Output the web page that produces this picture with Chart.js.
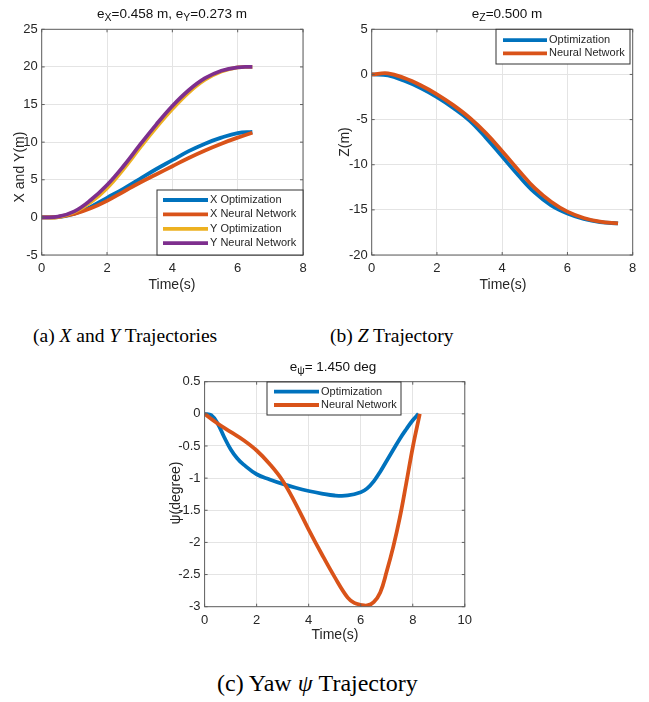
<!DOCTYPE html>
<html>
<head>
<meta charset="utf-8">
<script src="https://cdn.jsdelivr.net/npm/chart.js@4.4.1/dist/chart.umd.min.js"></script>
<style>
  html, body { margin: 0; padding: 0; background: #fff; }
  body { position: relative; width: 649px; height: 702px; overflow: hidden; }
  .panel { position: absolute; }
  .cap { position: absolute; font-family: "Liberation Serif", "Times New Roman", serif;
         font-size: 19.5px; line-height: 19.5px; color: #000; white-space: nowrap; }
</style>
</head>
<body>
<div class="panel" style="left:0;top:0"><canvas id="xyChart" width="330" height="300" style="width:330px;height:300px"></canvas></div>
<div class="panel" style="left:330px;top:0"><canvas id="zChart" width="319" height="300" style="width:319px;height:300px"></canvas></div>
<div class="panel" style="left:160px;top:350px"><canvas id="yawChart" width="330" height="300" style="width:330px;height:300px"></canvas></div>

<div class="cap" style="left:33px;top:326px">(a) <i>X</i> and <i>Y</i> Trajectories</div>
<div class="cap" style="left:330px;top:326px">(b) <i>Z</i> Trajectory</div>
<div class="cap" style="left:217px;top:671px;font-size:24px;line-height:24px">(c) Yaw <i>ψ</i> Trajectory</div>

<script>
// X / Y position (m)
const tXY = [0, 0.5, 1, 1.5, 2, 2.5, 3, 3.5, 4, 4.5, 5, 5.5, 6, 6.45];
const xOpt = [0, 0.05, 0.5, 1.4, 2.6, 3.8, 5.1, 6.4, 7.6, 8.8, 9.8, 10.6, 11.2, 11.35];
const xNN = [0, 0.05, 0.45, 1.2, 2.2, 3.4, 4.6, 5.7, 6.8, 7.9, 8.9, 9.8, 10.6, 11.25];
const yOpt = [0, 0.05, 0.7, 2.0, 3.9, 6.4, 9.2, 11.9, 14.4, 16.6, 18.3, 19.4, 19.95, 20];
const yNN = [0, 0.1, 0.8, 2.3, 4.3, 6.8, 9.6, 12.3, 14.8, 16.9, 18.5, 19.5, 19.95, 20];

// Z position (m)
const tZ = [0, 0.5, 1, 1.5, 2, 2.5, 3, 3.5, 4, 4.5, 5, 5.5, 6, 6.5, 7, 7.55];
const zOpt = [0, -0.1, -0.7, -1.5, -2.5, -3.7, -5.1, -7.0, -9.1, -11.2, -13.1, -14.5, -15.4, -16.0, -16.35, -16.5];
const zNN = [0, 0.12, -0.4, -1.2, -2.2, -3.4, -4.8, -6.5, -8.5, -10.6, -12.6, -14.1, -15.2, -15.9, -16.3, -16.5];

// yaw (degree)
const tPsiOpt = [0, 0.25, 0.5, 0.75, 1, 1.25, 1.5, 2, 2.5, 3, 3.5, 4, 4.5, 5, 5.5, 6, 6.25, 6.5, 6.75, 7, 7.25, 7.5, 7.75, 8, 8.22];
const psiOpt = [0, -0.02, -0.15, -0.36, -0.55, -0.69, -0.79, -0.94, -1.02, -1.09, -1.15, -1.2, -1.24, -1.27, -1.27, -1.22, -1.16, -1.05, -0.9, -0.73, -0.56, -0.39, -0.24, -0.1, 0];
const tPsiNN = [0, 0.5, 1, 1.5, 2, 2.5, 3, 3.5, 4, 4.5, 5, 5.5, 5.75, 6, 6.25, 6.5, 6.75, 7, 7.25, 7.5, 7.75, 8, 8.27];
const psiNN = [0, -0.15, -0.28, -0.41, -0.57, -0.78, -1.04, -1.4, -1.8, -2.18, -2.54, -2.86, -2.94, -2.97, -2.98, -2.93, -2.78, -2.45, -2.07, -1.62, -1.08, -0.52, 0];

const BLUE = '#0072BD', ORANGE = '#D95319', YELLOW = '#EDB120', PURPLE = '#7E2F8E';
const FONT = '"Liberation Sans", Arial, Helvetica, sans-serif';
const TEXT = '#262626';
const LINE_W = 3.8;

Chart.defaults.font.family = FONT;
Chart.defaults.color = TEXT;

// box, inward ticks, title, axis labels and legend in the MATLAB look
const matlabAxes = {
  id: 'matlabAxes',
  afterDraw(chart, args, o) {
    const { ctx, chartArea: a, scales: { x, y } } = chart;
    ctx.save();

    ctx.strokeStyle = '#5f5f5f';
    ctx.lineWidth = 1;
    ctx.strokeRect(a.left, a.top, a.right - a.left, a.bottom - a.top);
    ctx.beginPath();
    x.ticks.forEach(t => {
      const px = x.getPixelForValue(t.value);
      ctx.moveTo(px, a.bottom); ctx.lineTo(px, a.bottom - 3);
      ctx.moveTo(px, a.top); ctx.lineTo(px, a.top + 3);
    });
    y.ticks.forEach(t => {
      const py = y.getPixelForValue(t.value);
      ctx.moveTo(a.left, py); ctx.lineTo(a.left + 3, py);
      ctx.moveTo(a.right, py); ctx.lineTo(a.right - 3, py);
    });
    ctx.stroke();

    // title, with subscripts
    ctx.fillStyle = '#111';
    ctx.textBaseline = 'middle';
    ctx.textAlign = 'left';
    const big = '13.5px ' + FONT, small = '10.5px ' + FONT;
    let w = 0;
    o.title.forEach(([s, sub]) => { ctx.font = sub ? small : big; w += ctx.measureText(s).width; });
    let cx = o.titleAt[0] - w / 2;
    o.title.forEach(([s, sub]) => {
      ctx.font = sub ? small : big;
      ctx.fillText(s, cx, o.titleAt[1] + (sub ? 4 : 0));
      cx += ctx.measureText(s).width;
    });

    // axis labels
    ctx.fillStyle = TEXT;
    ctx.textAlign = 'center';
    ctx.font = '14px ' + FONT;
    ctx.fillText('Time(s)', o.xLabelAt[0], o.xLabelAt[1]);
    ctx.save();
    ctx.translate(o.yLabelAt[0], o.yLabelAt[1]);
    ctx.rotate(-Math.PI / 2);
    ctx.fillText(o.yLabel, 0, 0);
    ctx.restore();

    // legend
    const L = o.legend;
    ctx.fillStyle = '#fff';
    ctx.fillRect(L.box[0], L.box[1], L.box[2], L.box[3]);
    ctx.strokeStyle = '#333';
    ctx.lineWidth = 1;
    ctx.strokeRect(L.box[0], L.box[1], L.box[2], L.box[3]);
    ctx.font = '11px ' + FONT;
    ctx.textAlign = 'left';
    chart.data.datasets.forEach((ds, i) => {
      const ry = L.rows[i];
      ctx.strokeStyle = ds.borderColor;
      ctx.lineWidth = LINE_W;
      ctx.beginPath();
      ctx.moveTo(L.line[0], ry); ctx.lineTo(L.line[1], ry);
      ctx.stroke();
      ctx.fillStyle = TEXT;
      ctx.fillText(ds.label, L.textX, ry);
    });

    ctx.restore();
  }
};

function series(label, t, v, color) {
  return { label, t, v, color };
}

function panel(id, cfg) {
  const canvas = document.getElementById(id);
  const W = canvas.width, H = canvas.height, A = cfg.area;
  return new Chart(canvas, {
    type: 'line',
    data: {
      datasets: cfg.series.map((s, i) => ({
        label: s.label,
        data: s.t.map((t, k) => ({ x: t, y: s.v[k] })),
        borderColor: s.color,
        borderWidth: LINE_W,
        borderJoinStyle: 'round',
        pointRadius: 0,
        tension: 0.4,
        fill: false,
        order: -i
      }))
    },
    options: {
      responsive: false,
      animation: false,
      events: [],
      layout: { padding: { left: 0, top: A.top, right: W - A.right, bottom: 0 } },
      plugins: {
        legend: { display: false },
        tooltip: { enabled: false },
        matlabAxes: cfg.decor
      },
      scales: {
        x: {
          type: 'linear', min: 0, max: cfg.xMax,
          ticks: { stepSize: 2, padding: 6, font: { size: 13 }, maxRotation: 0 },
          grid: { color: '#e4e4e4', drawTicks: false },
          border: { display: false },
          afterFit: s => { s.height = H - A.bottom; }
        },
        y: {
          min: cfg.yMin, max: cfg.yMax,
          ticks: { stepSize: cfg.yStep, padding: 4, font: { size: 13 },
                   callback: v => String(+v.toFixed(2)) },
          grid: { color: '#e4e4e4', drawTicks: false },
          border: { display: false },
          afterFit: s => { s.width = A.left; }
        }
      }
    },
    plugins: [matlabAxes]
  });
}

panel('xyChart', {
  area: { left: 41.7, right: 303, top: 29.3, bottom: 255 },
  xMax: 8, yMin: -5, yMax: 25, yStep: 5,
  series: [
    series('X Optimization', tXY, xOpt, BLUE),
    series('X Neural Network', tXY, xNN, ORANGE),
    series('Y Optimization', tXY, yOpt, YELLOW),
    series('Y Neural Network', tXY, yNN, PURPLE)
  ],
  decor: {
    title: [['e', 0], ['X', 1], ['=0.458 m, e', 0], ['Y', 1], ['=0.273 m', 0]],
    titleAt: [172, 14.5],
    xLabelAt: [172, 285],
    yLabel: 'X and Y(m)', yLabelAt: [20, 167],
    legend: { box: [157, 190, 146, 65], line: [163, 208], textX: 210,
              rows: [200, 214.4, 228.8, 243.2] }
  }
});

panel('zChart', {
  area: { left: 41.7, right: 302.7, top: 29.3, bottom: 255 },
  xMax: 8, yMin: -20, yMax: 5, yStep: 5,
  series: [
    series('Optimization', tZ, zOpt, BLUE),
    series('Neural Network', tZ, zNN, ORANGE)
  ],
  decor: {
    title: [['e', 0], ['Z', 1], ['=0.500 m', 0]],
    titleAt: [177, 14.5],
    xLabelAt: [173, 285],
    yLabel: 'Z(m)', yLabelAt: [15.3, 142],
    legend: { box: [166, 29.3, 134, 34.7], line: [173, 217], textX: 219,
              rows: [40.2, 53.3] }
  }
});

panel('yawChart', {
  area: { left: 44.6, right: 304.8, top: 31.7, bottom: 256.7 },
  xMax: 10, yMin: -3, yMax: 0.5, yStep: 0.5,
  series: [
    series('Optimization', tPsiOpt, psiOpt, BLUE),
    series('Neural Network', tPsiNN, psiNN, ORANGE)
  ],
  decor: {
    title: [['e', 0], ['ψ', 1], ['= 1.450 deg', 0]],
    titleAt: [173, 17.5],
    xLabelAt: [175, 285],
    yLabel: 'ψ(degree)', yLabelAt: [16, 143],
    legend: { box: [107, 32, 134, 33], line: [114, 159], textX: 161,
              rows: [41.7, 55] }
  }
});
</script>
</body>
</html>
